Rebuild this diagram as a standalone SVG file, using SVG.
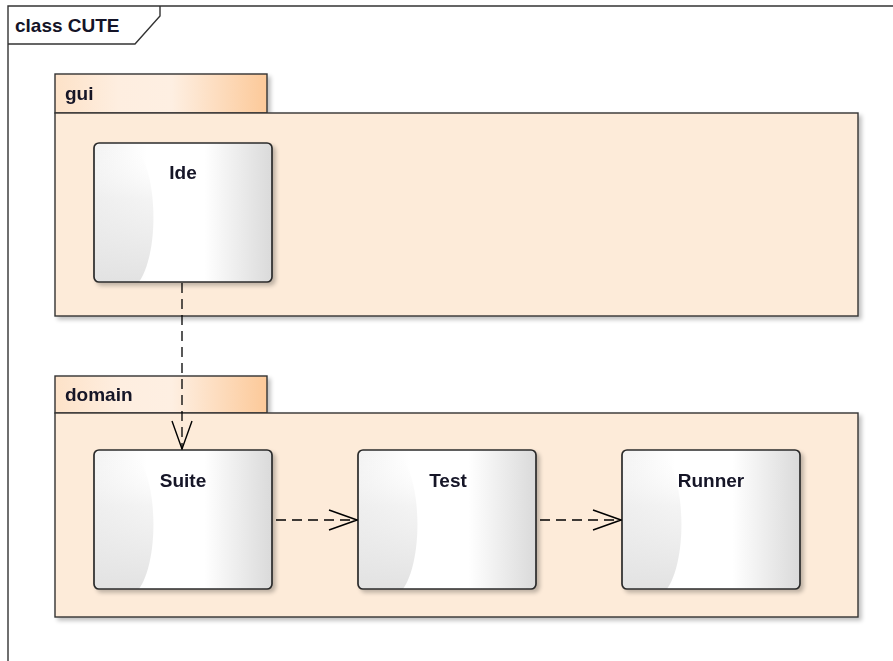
<svg xmlns="http://www.w3.org/2000/svg" width="893" height="661" viewBox="0 0 893 661">
  <defs>
    <linearGradient id="tabGrad" x1="0" y1="0" x2="1" y2="0">
      <stop offset="0" stop-color="#fde2c8"/>
      <stop offset="0.3" stop-color="#feeee0"/>
      <stop offset="0.55" stop-color="#feefe2"/>
      <stop offset="1" stop-color="#fcc999"/>
    </linearGradient>
    <linearGradient id="nodeGrad" x1="0" y1="0" x2="1" y2="0">
      <stop offset="0" stop-color="#f2f2f2"/>
      <stop offset="0.3" stop-color="#ffffff"/>
      <stop offset="0.62" stop-color="#ffffff"/>
      <stop offset="1" stop-color="#dadada"/>
    </linearGradient>
    <linearGradient id="leftShade" x1="0" y1="0" x2="0" y2="1">
      <stop offset="0" stop-color="#ffffff" stop-opacity="0"/>
      <stop offset="0.4" stop-color="#ececec" stop-opacity="0.6"/>
      <stop offset="1" stop-color="#e2e2e2" stop-opacity="1"/>
    </linearGradient>
    <filter id="shadow" x="-10%" y="-10%" width="130%" height="130%">
      <feGaussianBlur in="SourceAlpha" stdDeviation="2"/>
      <feOffset dx="3" dy="3" result="b"/>
      <feComponentTransfer><feFuncA type="linear" slope="0.25"/></feComponentTransfer>
      <feMerge><feMergeNode/><feMergeNode in="SourceGraphic"/></feMerge>
    </filter>
    <marker id="open" viewBox="0 0 30 22" refX="29" refY="11" markerWidth="30" markerHeight="22" markerUnits="userSpaceOnUse" orient="auto">
      <path d="M1,1 L29,11 L1,21" fill="none" stroke="#000" stroke-width="1.4"/>
    </marker>
    <g id="nodeBox">
      <rect x="0" y="0" width="178" height="139" rx="5" fill="url(#nodeGrad)"/>
      <path d="M0,5 Q0,0 5,0 L40,0 C65,30 65,110 45,139 L5,139 Q0,139 0,134 Z" fill="url(#leftShade)"/>
      <rect x="0" y="0" width="178" height="139" rx="5" fill="none" stroke="#2b2b2b" stroke-width="1.7"/>
    </g>
  </defs>
  <style>
    .lbl { font-family: "Liberation Sans", Arial, sans-serif; font-weight: bold; font-size: 19px; fill: #141428; }
    .pkgLine { stroke: #333; stroke-width: 1.4; }
    .dep { fill: none; stroke: #000; stroke-width: 1.3; stroke-dasharray: 10 6; }
  </style>

  <rect width="893" height="661" fill="#ffffff"/>

  <!-- diagram frame -->
  <g id="frame">
    <path d="M8,661 L8,6 L893,6" fill="none" stroke="#333" stroke-width="1.4"/>
    <path d="M8,44 L135,44 L160,16 L160,6" fill="none" stroke="#333" stroke-width="1.4"/>
    <text class="lbl" x="15" y="32">class CUTE</text>
  </g>

  <!-- package gui -->
  <g id="pkg-gui" filter="url(#shadow)">
    <rect x="55" y="74" width="212" height="39" fill="url(#tabGrad)" class="pkgLine"/>
    <rect x="55" y="113" width="803" height="203" fill="#fdebd9" class="pkgLine"/>
    <text class="lbl" x="65" y="100">gui</text>
  </g>

  <!-- package domain -->
  <g id="pkg-domain" filter="url(#shadow)">
    <rect x="55" y="376" width="212" height="37" fill="url(#tabGrad)" class="pkgLine"/>
    <rect x="55" y="413" width="803" height="204" fill="#fdebd9" class="pkgLine"/>
    <text class="lbl" x="65" y="401">domain</text>
  </g>

  <!-- classes -->
  <g id="Ide" filter="url(#shadow)">
    <use href="#nodeBox" x="94" y="143"/>
    <text class="lbl" x="183" y="179" text-anchor="middle">Ide</text>
  </g>
  <g id="Suite" filter="url(#shadow)">
    <use href="#nodeBox" x="94" y="450"/>
    <text class="lbl" x="183" y="487" text-anchor="middle">Suite</text>
  </g>
  <g id="Test" filter="url(#shadow)">
    <use href="#nodeBox" x="358" y="450"/>
    <text class="lbl" x="448" y="487" text-anchor="middle">Test</text>
  </g>
  <g id="Runner" filter="url(#shadow)">
    <use href="#nodeBox" x="622" y="450"/>
    <text class="lbl" x="711" y="487" text-anchor="middle">Runner</text>
  </g>

  <!-- dependencies -->
  <g id="connectors">
    <line class="dep" x1="182" y1="283" x2="182" y2="449" marker-end="url(#open)"/>
    <line class="dep" x1="276" y1="520" x2="357" y2="520" marker-end="url(#open)"/>
    <line class="dep" x1="540" y1="520" x2="621" y2="520" marker-end="url(#open)"/>
  </g>
</svg>
